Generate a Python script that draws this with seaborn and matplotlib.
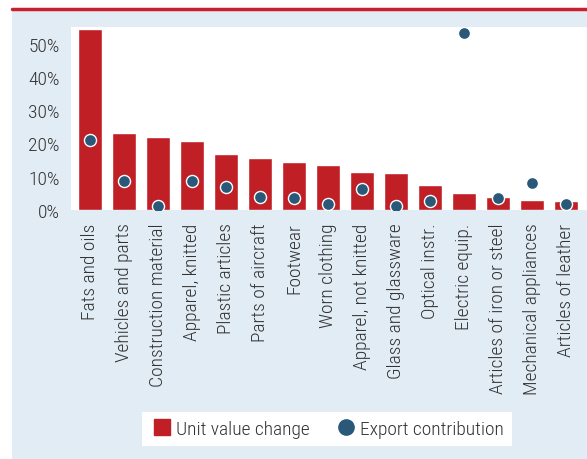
import numpy as np
import pandas as pd
import seaborn as sns
import matplotlib.pyplot as plt
from matplotlib.patches import Rectangle
from matplotlib.lines import Line2D
from matplotlib.ticker import PercentFormatter

# data (percent)
categories = ["Fats and oils", "Vehicles and parts", "Construction material",
              "Apparel, knitted", "Plastic articles", "Parts of aircraft",
              "Footwear", "Worn clothing", "Apparel, not knitted",
              "Glass and glassware", "Optical instr.", "Electric equip.",
              "Articles of iron or steel", "Mechanical appliances",
              "Articles of leather"]
unit_value_change = [54.3, 23.1, 21.9, 20.7, 16.8, 15.6, 14.4, 13.6, 11.4,
                     11.1, 7.5, 5.1, 3.9, 3.0, 2.7]
export_contribution = [21.1, 8.6, 1.1, 8.6, 7.0, 3.9, 3.6, 1.8, 6.4,
                       1.2, 2.8, 53.3, 3.5, 8.2, 1.9]

df = pd.DataFrame({"category": categories,
                   "unit": unit_value_change,
                   "export": export_contribution})

RED = "#c01f26"
NAVY = "#2a5878"
PANEL = "#e1ecf5"
TEXT = "#333333"

sns.set_style("white")
plt.rcParams["font.family"] = ["Roboto Condensed", "DejaVu Sans"]
plt.rcParams["font.weight"] = "light"

fig = plt.figure(figsize=(5.87, 4.60), dpi=100)

# light blue panel and red rule on top
fig.add_artist(Rectangle((12 / 587, 0), 1, 1 - 11 / 460, transform=fig.transFigure,
                         facecolor=PANEL, edgecolor="none", zorder=-5))
fig.add_artist(Line2D([12 / 587, 1], [1 - 9.5 / 460] * 2, transform=fig.transFigure,
                      color="#c8202c", linewidth=2.5))

ax = fig.add_axes([71 / 587, 1 - 211 / 460, 516 / 587, 183 / 460])
ax.set_facecolor("white")

sns.barplot(data=df, x="category", y="unit", color=RED, saturation=1,
            width=0.7, ax=ax)
sns.pointplot(data=df, x="category", y="export", color=NAVY, linestyle="none",
              markers="o", markersize=8.7, markeredgecolor="white",
              markeredgewidth=1, ax=ax)

ax.set_xlim(-0.56, 14.62)
ax.set_ylim(0, 55)
ax.set_yticks([0, 10, 20, 30, 40, 50])
ax.yaxis.set_major_formatter(PercentFormatter(decimals=0))
ax.set_xlabel("")
ax.set_ylabel("")
ax.tick_params(axis="y", length=0, pad=8, labelsize=14, labelcolor=TEXT)
ax.tick_params(axis="x", length=0, pad=9, labelsize=14, labelcolor=TEXT,
               labelrotation=90)
sns.despine(ax=ax, left=True, bottom=True)

handles = [Line2D([], [], marker="s", linestyle="none", color=RED, markersize=12),
           Line2D([], [], marker="o", linestyle="none", color=NAVY, markersize=11)]
leg = fig.legend(handles, ["Unit value change", "Export contribution"],
                 loc="center", bbox_to_anchor=(327 / 587, 1 - 430 / 460),
                 ncol=2, frameon=True, fontsize=14, handletextpad=0.1,
                 handlelength=1.2, columnspacing=1.3, borderpad=0.4,
                 fancybox=False, framealpha=1)
leg.get_frame().set_edgecolor("none")
leg.get_frame().set_facecolor("white")
for t in leg.get_texts():
    t.set_color(TEXT)

fig.savefig("out.png", dpi=100)
